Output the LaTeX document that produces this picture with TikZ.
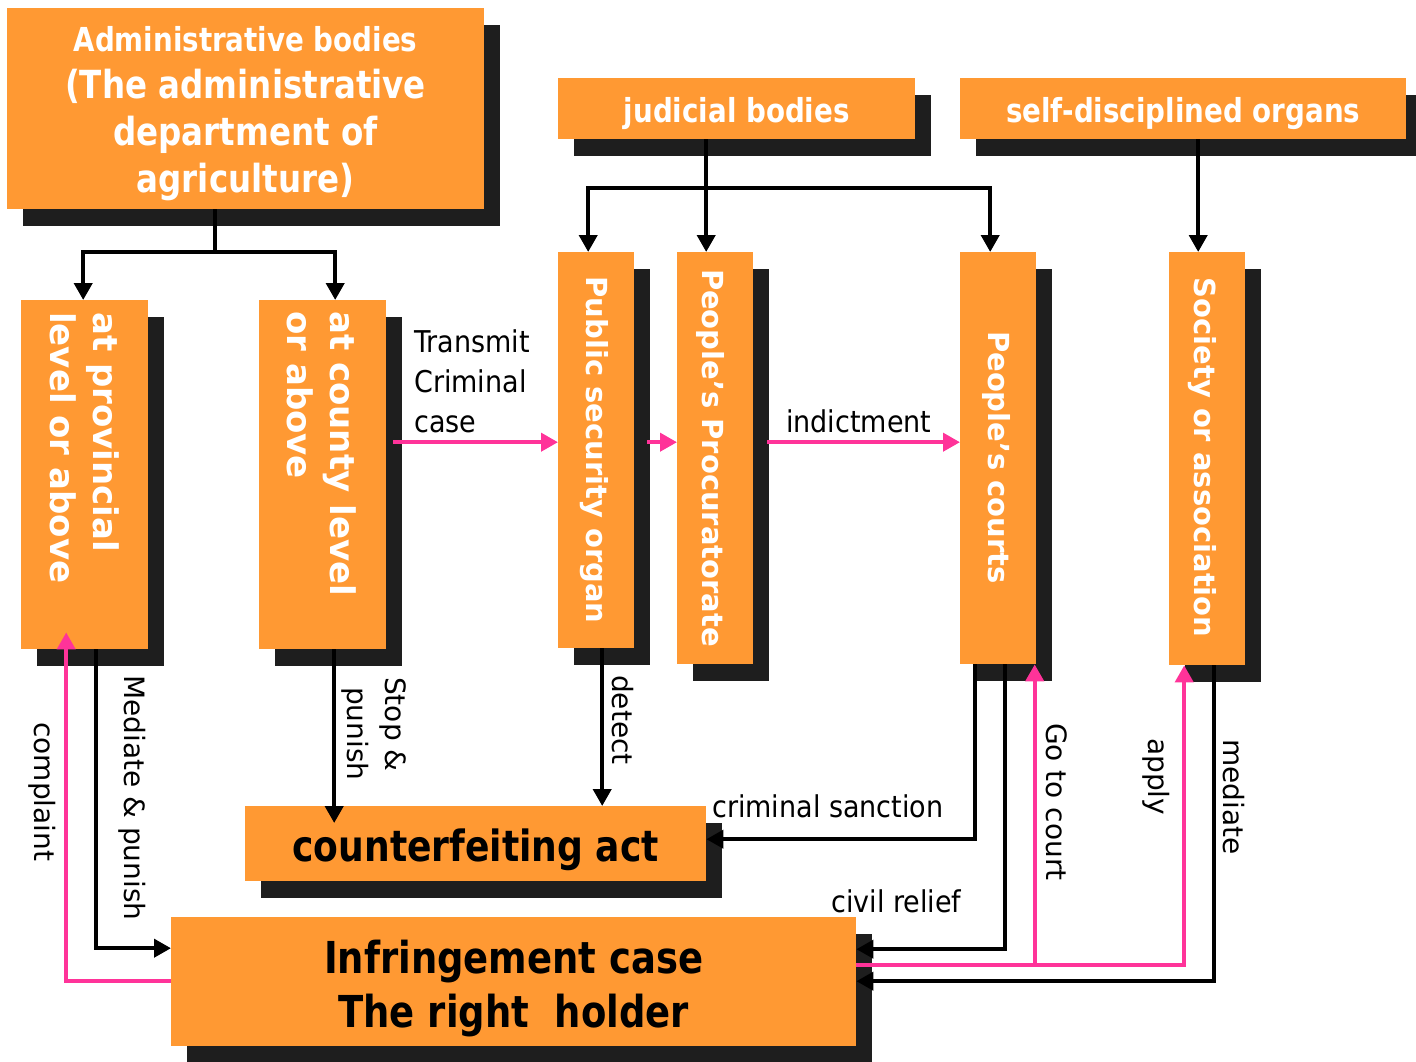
\documentclass[tikz,border=0pt]{standalone}
\usepackage{fontspec}
\setmainfont{DejaVu Sans}
\newfontfamily\hfont{DejaVu Sans}[FakeStretch=0.84]
\newfontfamily\lfont{DejaVu Sans}[FakeStretch=0.9]
\usetikzlibrary{arrows.meta,shadows,calc}
\definecolor{orng}{RGB}{255,153,51}
\definecolor{shd}{RGB}{30,30,30}
\definecolor{pnk}{RGB}{255,51,153}
\tikzset{
  obox/.style={rectangle, fill=orng, inner sep=0pt, anchor=north west,
    drop shadow={shadow xshift=16pt, shadow yshift=-17pt, fill=shd, opacity=1}},
  bk/.style={draw=black, line width=4pt, -{Triangle[length=17pt,width=18pt]}},
  pk/.style={draw=pnk, line width=4pt, -{Triangle[length=17pt,width=18pt]}},
  vtxt/.style={rotate=-90, inner sep=0pt, text=white},
  lbl/.style={inner sep=0pt, anchor=base west, font=\lfont\fontsize{30}{40}\selectfont},
  vlbl/.style={rotate=-90, inner sep=0pt, anchor=west, font=\fontsize{28}{38}\selectfont},
}
\begin{document}
\begin{tikzpicture}[x=1pt,y=-1pt]
\useasboundingbox (0,0) rectangle (1416,1062);

% top row
\node[obox, minimum width=477pt, minimum height=201pt] (adm) at (7,8) {};
\node[text=white, align=center, inner sep=0pt,
      font=\hfont\bfseries\fontsize{38.7}{47}\selectfont] (admt) at (245.5,114)
  {{\fontsize{33}{47}\selectfont Administrative bodies}\\(The administrative\\department of\\agriculture)};
\node[obox, minimum width=357pt, minimum height=61pt, text=white,
      text height=27pt, text depth=0pt,
      font=\hfont\bfseries\fontsize{33}{40}\selectfont] (jud) at (558,78) {judicial bodies};
\node[obox, minimum width=446pt, minimum height=61pt, text=white,
      text height=27pt, text depth=0pt,
      font=\hfont\bfseries\fontsize{33}{40}\selectfont] (sdo) at (960,78) {self-disciplined organs};

% vertical boxes
\node[obox, minimum width=127pt, minimum height=349pt] (prov) at (21,300) {};
\node[obox, minimum width=127pt, minimum height=349pt] (cnty) at (259,300) {};
\node[obox, minimum width=76pt, minimum height=396pt] (pso) at (558,252) {};
\node[obox, minimum width=76pt, minimum height=412pt] (proc) at (677,252) {};
\node[obox, minimum width=76pt, minimum height=412pt] (crt) at (960,252) {};
\node[obox, minimum width=76pt, minimum height=413pt] (soc) at (1169,252) {};

\node[vtxt, anchor=west, align=left, font=\bfseries\fontsize{34}{43}\selectfont]
  (provt) at (84.5,312) {at provincial\\level or above};
\node[vtxt, anchor=west, align=left, font=\bfseries\fontsize{34}{43}\selectfont]
  (cntyt) at (322,311) {at county level\\or above};
\node[vtxt, font=\bfseries\fontsize{29}{35}\selectfont] (psot) at (594.5,450) {Public security organ};
\node[vtxt, font=\bfseries\fontsize{29}{35}\selectfont] (proct) at (710.5,458) {People’s Procuratorate};
\node[vtxt, font=\bfseries\fontsize{29}{35}\selectfont] (crtt) at (996.5,457.5) {People’s courts};
\node[vtxt, font=\bfseries\fontsize{29}{35}\selectfont] (soct) at (1202.5,457.5) {Society or association};

% bottom boxes
\node[obox, minimum width=461pt, minimum height=75pt,
      text height=35pt, text depth=0pt,
      font=\hfont\bfseries\fontsize{43}{50}\selectfont] (cfa) at (245,806) {counterfeiting act};
\node[obox, minimum width=685pt, minimum height=129pt, align=center,
      text height=91pt, text depth=0pt,
      font=\hfont\bfseries\fontsize{44}{54}\selectfont] (inf) at (171,917)
  {Infringement case\\The right~ holder};

% administrative branch
\draw[bk] ($(adm.south)+(-30.5,0)$) -- ++(0,43) -| ($(prov.north)+(-1.5,0)$);
\draw[bk] ($(adm.south)+(-30.5,0)$) -- ++(0,43) -| ($(cnty.north)+(12.5,0)$);

% judicial branch
\draw[bk] ($(jud.south)+(-30.5,0)$) -- ($(proc.north)+(-9,0)$);
\draw[bk] ($(jud.south)+(-30.5,49)$) -| ($(pso.north)+(-8,0)$);
\draw[bk] ($(jud.south)+(-30.5,49)$) -| ($(crt.north)+(-8,0)$);

% self-disciplined branch
\draw[bk] ($(sdo.south)+(15,0)$) -- ($(soc.north)+(-9,0)$);

% criminal chain
\draw[pk] ($(cnty.east)+(7,-32.5)$) -- ($(pso.west)+(0,-8)$);
\draw[pk] ($(pso.east)+(13,-8)$) -- ($(proc.west)+(0,-16)$);
\draw[pk] ($(proc.east)+(14,-16)$) -- ($(crt.west)+(0,-16)$);

% lower connectors
\draw[bk] ($(cnty.south)+(11.5,0)$) -- ($(cfa.north)+(-141.5,17)$);
\draw[bk] ($(pso.south)+(6,0)$) -- ($(cfa.north)+(126.5,0)$);
\draw[bk] ($(prov.south)+(11.5,0)$) |- ($(inf.west)+(0,-33.5)$);
\draw[pk] ($(inf.west)+(0,-0.5)$) -| ($(prov.south)+(-18.5,-17)$);
\draw[bk] ($(crt.south)+(-23,0)$) |- ($(cfa.east)+(0,-4.5)$);
\draw[bk] ($(crt.south)+(7,0)$) |- ($(inf.east)+(0,-32.5)$);
\coordinate (pkbus) at ($(inf.east)+(0,-16.5)$);
\coordinate (gct) at ($(crt.south)+(36.5,0)$);
\draw[pk] (pkbus) -| ($(soc.south)+(-23,0)$);
\draw[pk] (gct |- pkbus) -- (gct);
\draw[bk] ($(soc.south)+(7,0)$) |- ($(inf.east)+(0,-0.5)$);

% labels
\node[lbl, align=left] (ltr) at (414,432) {Transmit\\Criminal\\case};
\node[lbl] (lind) at (786,432) {indictment};
\node[lbl] (lcs) at (712,817) {criminal sanction};
\node[lbl] (lcr) at (831,912) {civil relief};
\node[vlbl] (lcp) at (42,722) {complaint};
\node[vlbl] (lmp) at (132,675) {Mediate \& punish};
\node[vlbl, align=left] (lsp) at (374,677) {Stop \&\\\hspace*{10pt}punish};
\node[vlbl] (ldt) at (622.5,675) {detect};
\node[vlbl] (lgc) at (1057,723) {Go to court};
\node[vlbl] (lap) at (1156.5,738) {apply};
\node[vlbl] (lmd) at (1234,739) {mediate};
\end{tikzpicture}
\end{document}
